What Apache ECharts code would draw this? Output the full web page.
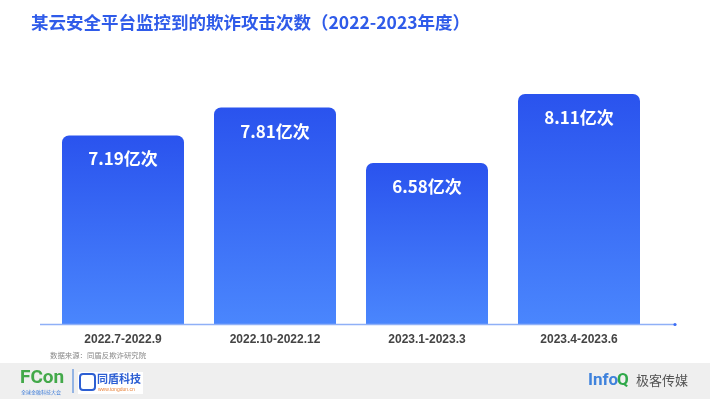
<!DOCTYPE html>
<html>
<head>
<meta charset="utf-8">
<script src="https://cdn.jsdelivr.net/npm/echarts@6/dist/echarts.min.js"></script>
<style>
  html, body { margin: 0; padding: 0; background: #fff; }
  #chart { width: 710px; height: 399px; }
</style>
</head>
<body>
<div id="chart"></div>
<script>
// 数据
const categories = ['2022.7-2022.9', '2022.10-2022.12', '2023.1-2023.3', '2023.4-2023.6'];
const attackCounts = [7.19, 7.81, 6.58, 8.11];
const unit = '亿次';

const FONT = '"Noto Sans CJK SC", "Noto Sans", sans-serif';

const chart = echarts.init(document.getElementById('chart'));

const option = {
  backgroundColor: '#ffffff',
  animation: false,
  title: {
    text: '某云安全平台监控到的欺诈攻击次数（2022-2023年度）',
    left: 26,
    top: 9,
    textStyle: {
      color: '#2f5be9',
      fontSize: 17.5,
      fontWeight: 'bold',
      fontFamily: FONT,
    },
  },
  grid: {
    left: 47,
    right: 55,
    top: 54,
    bottom: 75,
  },
  xAxis: {
    type: 'category',
    data: categories,
    axisLine: { show: false },
    axisTick: { show: false },
    axisLabel: {
      color: '#444',
      fontSize: 12,
      fontWeight: 'bold',
      fontFamily: '"Liberation Sans", Arial, sans-serif',
      margin: 10,
    },
  },
  yAxis: {
    type: 'value',
    min: 3,
    max: 9,
    show: false,
    splitLine: { show: false },
  },
  series: [
    {
      type: 'bar',
      data: attackCounts,
      barWidth: 122,
      itemStyle: {
        borderRadius: [7, 7, 0, 0],
        color: new echarts.graphic.LinearGradient(0, 0, 0, 1, [
          { offset: 0, color: '#2a53ee' },
          { offset: 1, color: '#4a86fd' },
        ]),
      },
      label: {
        show: true,
        position: 'insideTop',
        distance: 15,
        color: '#ffffff',
        fontSize: 17,
        fontWeight: 'bold',
        fontFamily: FONT,
        formatter: (p) => p.value.toFixed(2) + unit,
      },
    },
  ],
  graphic: [
    // 底部坐标线
    {
      type: 'line',
      shape: { x1: 40, y1: 324.5, x2: 675, y2: 324.5 },
      style: { stroke: '#8fb0f7', lineWidth: 1.5 },
      z: 10,
    },
    {
      type: 'circle',
      shape: { cx: 675, cy: 324.5, r: 1.6 },
      style: { fill: '#3d6ef5' },
      z: 10,
    },
    {
      type: 'text',
      left: 50,
      top: 351,
      style: {
        text: '数据来源：同盾反欺诈研究院',
        fill: '#888',
        font: '7.4px "Noto Sans CJK SC", sans-serif',
      },
    },
    // 页脚
    {
      type: 'rect',
      shape: { x: 0, y: 363, width: 710, height: 36 },
      style: { fill: '#efefef' },
    },
    {
      type: 'text',
      left: 20,
      top: 369,
      style: {
        text: 'FCon',
        fill: '#43a94a',
        font: 'bold 19px Roboto, sans-serif',
      },
    },
    {
      type: 'text',
      left: 21,
      top: 390,
      style: {
        text: '全球金融科技大会',
        fill: '#3a7ad8',
        font: '5px "Noto Sans CJK SC", sans-serif',
      },
    },
    {
      type: 'line',
      shape: { x1: 73, y1: 369, x2: 73, y2: 393 },
      style: { stroke: '#3a7ad8', lineWidth: 1 },
    },
    {
      type: 'rect',
      shape: { x: 78, y: 372, width: 65, height: 22 },
      style: { fill: '#ffffff' },
    },
    {
      type: 'rect',
      shape: { x: 80, y: 374, width: 15, height: 16, r: 3 },
      style: { fill: 'none', stroke: '#2d5fd3', lineWidth: 2 },
    },
    {
      type: 'text',
      left: 97,
      top: 373,
      style: {
        text: '同盾科技',
        fill: '#2d5fd3',
        font: 'bold 11px "Noto Sans CJK SC", sans-serif',
      },
    },
    {
      type: 'text',
      left: 98,
      top: 387,
      style: {
        text: 'www.tongdun.cn',
        fill: '#e8823a',
        font: '5px sans-serif',
      },
    },
    {
      type: 'text',
      left: 588,
      top: 372,
      style: {
        text: 'Info',
        fill: '#3f82dc',
        font: 'bold 17px Roboto, sans-serif',
      },
    },
    {
      type: 'text',
      left: 617,
      top: 372,
      style: {
        text: 'Q',
        fill: '#2fa84a',
        font: 'bold 17px Roboto, sans-serif',
      },
    },
    {
      type: 'text',
      left: 636,
      top: 374,
      style: {
        text: '极客传媒',
        fill: '#555',
        font: '13px "Noto Sans CJK SC", sans-serif',
      },
    },
  ],
};

chart.setOption(option);
</script>
</body>
</html>
